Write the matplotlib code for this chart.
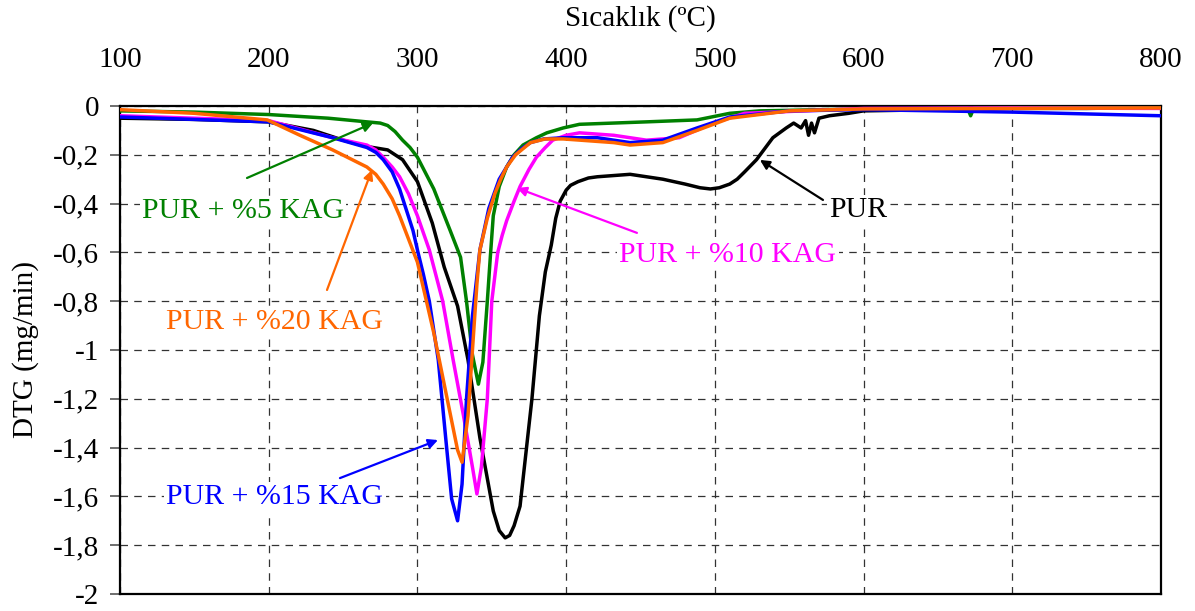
import matplotlib
matplotlib.use("Agg")
import matplotlib.pyplot as plt
from matplotlib.ticker import FixedLocator, FuncFormatter

plt.rcParams['font.family'] = ['Liberation Serif', 'DejaVu Serif']

# DTG curves (temperature in degC, DTG in mg/min)
t_pur = [100, 150, 200, 230, 250, 265, 280, 290, 300, 310, 318, 327, 334, 342, 351, 355, 359,
         362, 365, 369, 377, 382, 386, 390, 393, 396, 400, 403, 408, 415, 421, 443, 465, 480,
         490, 497, 503, 510, 515, 520, 528, 539, 548, 553, 558, 561, 563, 565, 567, 570, 577,
         590, 600, 650, 700, 750, 800]
dtg_pur = [-0.05, -0.055, -0.065, -0.10, -0.14, -0.165, -0.18, -0.22, -0.31, -0.48, -0.66, -0.82,
           -1.04, -1.36, -1.66, -1.74, -1.77, -1.76, -1.72, -1.64, -1.20, -0.86, -0.68, -0.57,
           -0.46, -0.39, -0.345, -0.325, -0.31, -0.295, -0.29, -0.28, -0.30, -0.32, -0.335,
           -0.34, -0.335, -0.32, -0.30, -0.27, -0.22, -0.13, -0.09, -0.07, -0.09, -0.06, -0.12,
           -0.07, -0.11, -0.05, -0.04, -0.03, -0.02, -0.015, -0.01, -0.01, -0.005]

t_k5 = [100, 150, 200, 240, 266, 275, 280, 285, 290, 295, 300, 311, 322, 329, 333, 337, 341,
        344, 347, 349, 351, 355, 360, 365, 371, 380, 387, 398, 409, 454, 488, 510, 530, 600,
        670, 672, 674, 700, 800]
dtg_k5 = [-0.02, -0.025, -0.035, -0.05, -0.065, -0.07, -0.08, -0.105, -0.14, -0.17, -0.21, -0.34,
          -0.51, -0.62, -0.80, -1.02, -1.14, -1.05, -0.80, -0.62, -0.45, -0.33, -0.25, -0.20,
          -0.16, -0.13, -0.11, -0.09, -0.075, -0.065, -0.057, -0.03, -0.02, -0.012, -0.01,
          -0.04, -0.01, -0.008, -0.005]

t_k10 = [100, 150, 200, 243, 266, 272, 277, 283, 288, 294, 300, 308, 317, 324, 331, 337, 340,
         343, 347, 350, 354, 357, 360, 365, 369, 375, 380, 386, 391, 400, 409, 432, 454, 476,
         499, 520, 600, 700, 800]
dtg_k10 = [-0.04, -0.05, -0.06, -0.13, -0.16, -0.18, -0.21, -0.25, -0.29, -0.36, -0.45, -0.59,
           -0.80, -1.04, -1.27, -1.48, -1.59, -1.48, -1.20, -0.80, -0.60, -0.53, -0.47, -0.39,
           -0.33, -0.26, -0.21, -0.17, -0.14, -0.12, -0.11, -0.12, -0.14, -0.13, -0.07, -0.03,
           -0.01, -0.008, -0.01]

t_k15 = [100, 150, 200, 243, 266, 272, 277, 283, 288, 297, 300, 304, 308, 314, 319, 323, 327,
         330, 333, 337, 342, 348, 355, 360, 364, 370, 376, 385, 398, 421, 443, 465, 488, 510,
         550, 600, 700, 800]
dtg_k15 = [-0.045, -0.055, -0.065, -0.13, -0.17, -0.19, -0.22, -0.27, -0.34, -0.51, -0.59,
           -0.69, -0.80, -1.04, -1.36, -1.61, -1.70, -1.55, -1.20, -0.86, -0.59, -0.42, -0.30,
           -0.25, -0.21, -0.175, -0.15, -0.135, -0.13, -0.13, -0.15, -0.14, -0.09, -0.045,
           -0.02, -0.015, -0.025, -0.04]

t_k20 = [100, 150, 199, 221, 243, 266, 272, 277, 283, 288, 300, 311, 320, 327, 330, 334, 337,
         340, 342, 347, 352, 356, 360, 366, 376, 386, 398, 432, 443, 465, 488, 510, 550, 600,
         700, 800]
dtg_k20 = [-0.015, -0.03, -0.057, -0.12, -0.18, -0.25, -0.28, -0.32, -0.38, -0.45, -0.64, -0.93,
           -1.20, -1.41, -1.46, -1.27, -1.00, -0.73, -0.59, -0.46, -0.36, -0.30, -0.25, -0.20,
           -0.15, -0.135, -0.135, -0.15, -0.16, -0.15, -0.10, -0.05, -0.02, -0.012, -0.01,
           -0.008]

x_ticks = [100, 200, 300, 400, 500, 600, 700, 800]
y_ticks = [0, -0.2, -0.4, -0.6, -0.8, -1.0, -1.2, -1.4, -1.6, -1.8, -2.0]

C_PUR, C_5, C_10, C_15, C_20 = "black", "#008000", "#FF00FF", "#0000FF", "#FF6600"

fig = plt.figure(figsize=(11.95, 6.11), dpi=100)
ax = fig.add_axes([120 / 1195, 1 - 594 / 611, (1161 - 120) / 1195, (594 - 106) / 611])

lw = 2.5
ax.plot(t_pur, dtg_pur, color=C_PUR, lw=lw, zorder=3)
ax.plot(t_k5, dtg_k5, color=C_5, lw=lw, zorder=3)
ax.plot(t_k10, dtg_k10, color=C_10, lw=lw, zorder=3)
ax.plot(t_k15, dtg_k15, color=C_15, lw=lw, zorder=3)
ax.plot(t_k20, dtg_k20, color=C_20, lw=lw, zorder=3)

ax.set_xlim(100, 800)
ax.set_ylim(-2, 0)
ax.xaxis.set_major_locator(FixedLocator(x_ticks))
ax.yaxis.set_major_locator(FixedLocator(y_ticks))
ax.yaxis.set_major_formatter(FuncFormatter(lambda v, p: ("%g" % round(v, 1)).replace(".", ",")))
ax.xaxis.tick_top()
ax.tick_params(axis='x', length=0, pad=24, labelsize=21)
ax.tick_params(axis='y', length=7, width=1.2, color="#555555", direction='out', pad=8, labelsize=21)

ax.grid(True, color="#333333", lw=0.9, ls=(0, (6, 5)))
ax.set_axisbelow(True)
for s in ax.spines.values():
    s.set_linewidth(1.6)
    s.set_color("black")

ax.xaxis.set_label_position('top')
ax.set_xlabel("Sıcaklık (ºC)", fontsize=21)
ax.xaxis.set_label_coords(0.5, 1.165)
ax.set_ylabel("DTG (mg/min)", fontsize=21)
ax.yaxis.set_label_coords(-0.078, 0.5)

arrow = dict(arrowstyle='-|>', lw=1.6, mutation_scale=14, shrinkA=0, shrinkB=0)

def label(text, color, xytext, xy, tail):
    ax.text(xytext[0], xytext[1], text, color=color, fontsize=21.5, ha='center', va='center',
            zorder=5, bbox=dict(facecolor='white', edgecolor='none', pad=1.5))
    ax.annotate("", xy=xy, xytext=tail, arrowprops=dict(arrow, color=color), zorder=4)

label("PUR + %5 KAG", C_5, (182.7, -0.43), (270.1, -0.07), (185.4, -0.295))
label("PUR + %20 KAG", C_20, (204.2, -0.885), (269.4, -0.262), (239.2, -0.754))
label("PUR + %15 KAG", C_15, (204.2, -1.602), (313.8, -1.369), (247.9, -1.525))
label("PUR + %10 KAG", C_10, (508.8, -0.611), (366.9, -0.336), (447.6, -0.52))
label("PUR", C_PUR, (596.2, -0.426), (530.3, -0.221), (572.7, -0.385))

fig.savefig("out.png", dpi=100)
